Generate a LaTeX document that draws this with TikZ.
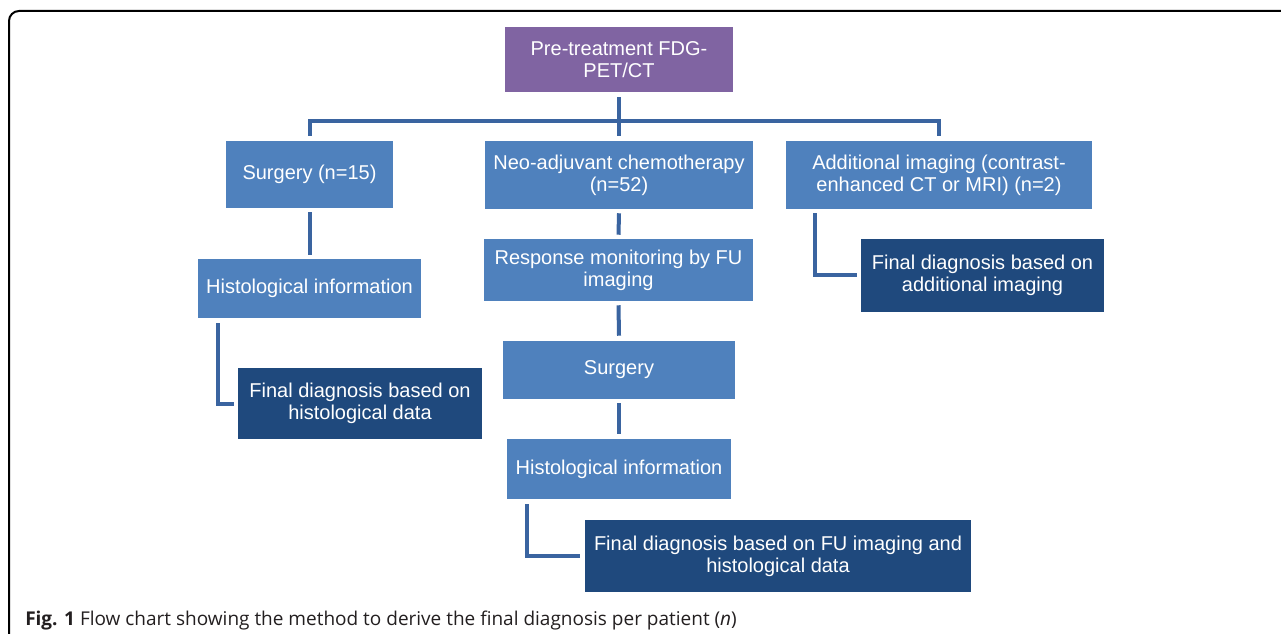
\documentclass[tikz,border=0pt]{standalone}
\usepackage{fontspec}
\setmainfont{Liberation Sans}
\newfontfamily\capfont{Open Sans}
\usetikzlibrary{calc}
\definecolor{lblue}{HTML}{4F81BD}
\definecolor{dblue}{HTML}{1F497D}
\definecolor{purp}{HTML}{8064A2}
\definecolor{conn}{RGB}{58,100,160}
\definecolor{captxt}{HTML}{231F20}
\begin{document}
\begin{tikzpicture}[x=0.75pt,y=-0.75pt,
  bx/.style={rectangle, inner sep=0pt, text=white, align=center, font=\fontsize{15}{16.5}\selectfont},
  lb/.style={bx, fill=lblue},
  db/.style={bx, fill=dblue},
  pb/.style={bx, fill=purp},
  cn/.style={draw=conn, line width=3pt}]
\useasboundingbox[fill=white] (0,0) rectangle (1281,634);
\draw[line width=1.5pt, rounded corners=7.5pt] (9,650) -- (9,11) -- (1300,11);

\node[pb, minimum width=171pt, minimum height=48.75pt] (pre) at (619,59.5) {Pre-treatment FDG-\\PET/CT};
\node[lb, minimum width=125.25pt, minimum height=50.25pt] (surg1) at (309.5,174.5) {Surgery (n=15)};
\node[lb, minimum width=201pt, minimum height=51pt] (neo) at (619,175) {Neo-adjuvant chemotherapy\\(n=52)};
\node[lb, minimum width=229.5pt, minimum height=51pt] (add) at (939,175) {Additional imaging (contrast-\\enhanced CT or MRI) (n=2)};
\node[lb, minimum width=167.25pt, minimum height=44.25pt] (histo1) at (309.5,288.5) {Histological information};
\node[lb, minimum width=201.75pt, minimum height=46.5pt] (resp) at (618.5,270) {Response monitoring by FU\\imaging};
\node[db, minimum width=182.25pt, minimum height=54.75pt] (finadd) at (982.5,275.5) {Final diagnosis based on\\additional imaging};
\node[db, minimum width=183pt, minimum height=53.25pt] (finhist) at (360,403.5) {Final diagnosis based on\\histological data};
\node[lb, minimum width=174pt, minimum height=43.5pt] (surg2) at (619,370) {Surgery};
\node[lb, minimum width=168pt, minimum height=45pt] (histo2) at (619,469) {Histological information};
\node[db, minimum width=289.5pt, minimum height=54pt] (finfu) at (778,556) {Final diagnosis based on FU imaging and\\histological data};

\coordinate (bar) at (619,121);
\draw[cn] ($(pre.south)+(0,5)$) -- ($(neo.north)+(0,-5)$);
\draw[cn] ($(surg1.north)+(0,-5)$) -- (surg1.north |- bar) -- (add.north |- bar) -- ($(add.north)+(0,-5)$);
\draw[cn] ($(surg1.south)+(0,4)$) -- ($(histo1.north)+(0,-4)$);
\draw[cn] ($(histo1.south west)+(20,5)$) |- ($(finhist.west)+(-4,0)$);
\draw[cn] ($(add.south west)+(29,4)$) |- ($(finadd.west)+(-4,0)$);
\draw[cn] ($(neo.south)+(0,4)$) -- ($(resp.north)+(0,-4)$);
\draw[cn] ($(resp.south)+(0,4)$) -- ($(surg2.north)+(0,-5)$);
\draw[cn] ($(surg2.south)+(0,4)$) -- ($(histo2.north)+(0,-5)$);
\draw[cn] ($(histo2.south west)+(20,5)$) |- ($(finfu.west)+(-5,0)$);

\node[anchor=base west, inner sep=0pt, text=captxt] (cap) at (25,625) {\capfont\fontsize{14.25}{16}\selectfont\textbf{Fig. 1} Flow chart showing the method to derive the final diagnosis per patient (\textit{n})};
\end{tikzpicture}
\end{document}
